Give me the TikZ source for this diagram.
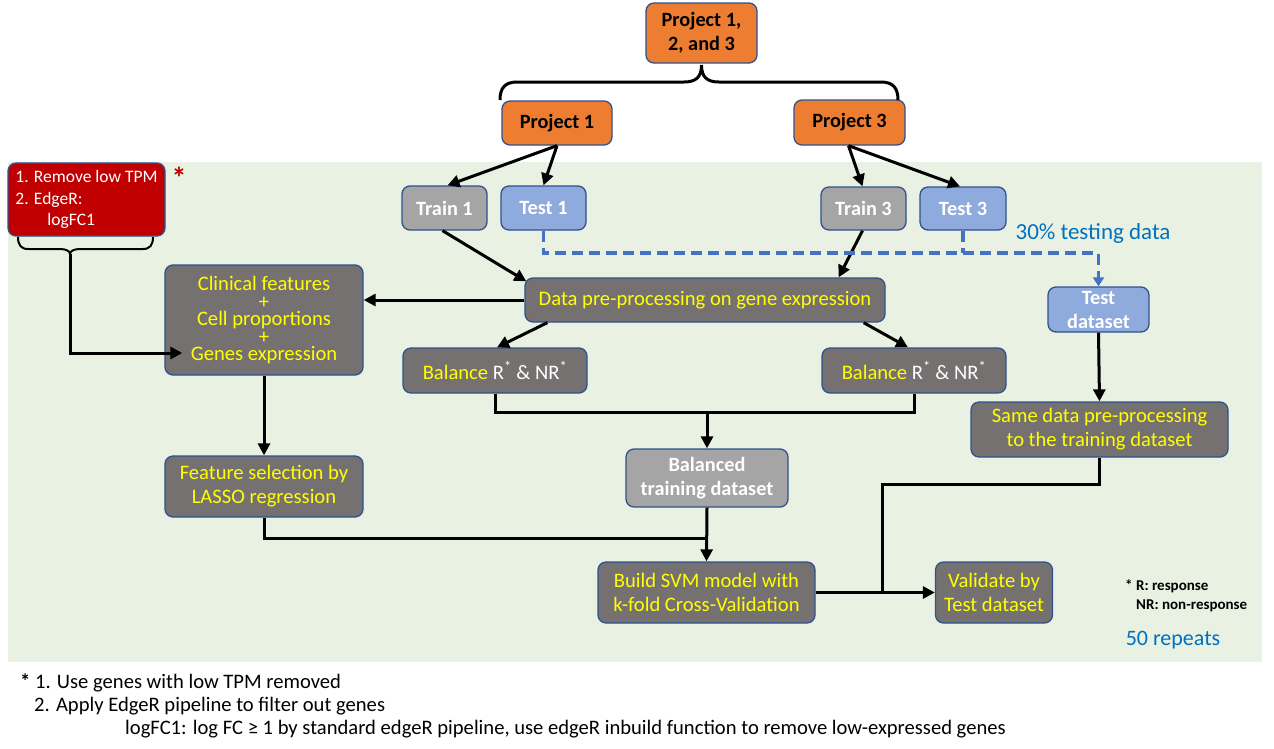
\documentclass[tikz,border=0pt]{standalone}
\usepackage{fontspec}
\setmainfont{Carlito}
\usetikzlibrary{arrows.meta,calc}
\definecolor{bgc}{RGB}{233,242,226}
\definecolor{bord}{RGB}{47,82,143}
\definecolor{dg}{RGB}{118,113,113}
\definecolor{org}{RGB}{237,125,49}
\definecolor{lg}{RGB}{165,165,165}
\definecolor{lb}{RGB}{143,170,220}
\definecolor{rd}{RGB}{192,0,0}
\definecolor{dashc}{RGB}{68,114,196}
\definecolor{bluetxt}{RGB}{0,112,192}
\definecolor{yel}{RGB}{255,255,0}
\begin{document}
\begin{tikzpicture}[x=1pt,y=-1pt,
 box/.style={draw=bord,line width=1.3pt,rounded corners=8pt,align=center,inner sep=0pt,font=\fontsize{20.6}{24}\selectfont},
 dgbox/.style={box,fill=dg,text=yel},
 orbox/.style={box,fill=org,text=black,font=\fontsize{20.3}{24}\selectfont\bfseries},
 grbox/.style={box,fill=lg,text=white,font=\fontsize{20.3}{24}\selectfont\bfseries},
 lbbox/.style={box,fill=lb,text=white,font=\fontsize{20.3}{24}\selectfont\bfseries},
 sz/.style 2 args={minimum width=#1pt,minimum height=#2pt},
 arr/.style={line width=3pt,-{Triangle[length=12pt,width=12pt]}},
 conn/.style={line width=3pt},
 bracel/.style={line width=3pt},
 dashl/.style={draw=dashc,line width=3.5pt,dash pattern=on 11pt off 6pt},
 dasharr/.style={dashl,-{Triangle[length=9pt,width=11pt]}},
 foot/.style={anchor=base west,font=\fontsize{20.6}{21}\selectfont,inner sep=0pt},
]
\useasboundingbox (0,0) rectangle (1274,748);
\fill[bgc] (8,162) rectangle (1262,662);

% nodes
\node[orbox,sz={111}{60}] (top) at (701.5,33) {Project 1,\\2, and 3};
\node[orbox,sz={110}{44}] (p1) at (557,123) {Project 1};
\node[orbox,sz={111}{45}] (p3) at (849.5,122.5) {Project 3};
\node[grbox,sz={85}{44}] (tr1) at (444.5,208) {Train 1};
\node[lbbox,sz={85}{44}] (te1) at (543.5,208) {Test 1};
\node[grbox,sz={85}{43}] (tr3) at (863.5,208.5) {Train 3};
\node[lbbox,sz={86}{43}] (te3) at (963,208.5) {Test 3};
\node[box,fill=rd,text=white,sz={157}{73},align=left,font=\fontsize{17.5}{21.5}\selectfont] (red) at (86.5,199.5) {1. Remove low TPM\\2. EdgeR:\\\hspace*{32pt}logFC1};
\node[dgbox,sz={198}{110},font=\fontsize{20.6}{17.5}\selectfont] (clin) at (264,320) {Clinical features\\+\\Cell proportions\\+\\Genes expression};
\node[dgbox,sz={360}{44}] (dp) at (705,300) {Data pre-processing on gene expression};
\node[dgbox,sz={184}{45}] (bl) at (495,370.5) {Balance {\color{white}R\textsuperscript{*} \& NR\textsuperscript{*}}};
\node[dgbox,sz={184}{45}] (br) at (914,370.5) {Balance {\color{white}R\textsuperscript{*} \& NR\textsuperscript{*}}};
\node[grbox,sz={162}{58}] (bt) at (707,478) {Balanced\\training dataset};
\node[lbbox,sz={101}{45}] (td) at (1098.5,309.5) {Test\\dataset};
\node[dgbox,sz={257}{55}] (same) at (1099.5,429.5) {Same data pre-processing\\to the training dataset};
\node[dgbox,sz={198}{61}] (fs) at (264,486.5) {Feature selection by\\LASSO regression};
\node[dgbox,sz={217}{61}] (svm) at (706.5,592.5) {Build SVM model with\\k-fold Cross-Validation};
\node[dgbox,sz={117}{61}] (val) at (994,592.5) {Validate by\\Test dataset};

% texts
\node[text=rd,font=\fontsize{30}{30}\selectfont\bfseries] (ast) at (179,178) {*};
\node[text=bluetxt,font=\fontsize{23}{23}\selectfont] (pct) at (1093,233) {30\% testing data};
\node[font=\fontsize{15}{19}\selectfont\bfseries,align=left,anchor=west,inner sep=0pt] (legend) at (1125,596) {* R: response\\\hspace*{11pt}NR: non-response};
\node[text=bluetxt,font=\fontsize{22}{22}\selectfont] (rep) at (1173,640) {50 repeats};
\node[foot] (f1) at (20,688) {\textbf{*} 1. Use genes with low TPM removed};
\node[foot] (f2) at (34,711) {2. Apply EdgeR pipeline to filter out genes};
\node[foot] (f3) at (125,734) {logFC1: log FC ≥ 1 by standard edgeR pipeline, use edgeR inbuild function to remove low-expressed genes};

% braces
\draw[bracel] (500,100) .. controls (500,88) and (505,82) .. (517,82) -- (684,82) .. controls (696,82) and (701.5,77) .. (701.5,65)
  .. controls (701.5,77) and (707,82) .. (719,82) -- (881,82) .. controls (893,82) and (898,88) .. (898,100);
\coordinate (rtip) at (70,254);
\draw[line width=2pt] (18,237) .. controls (18,245) and (21,249) .. (28,249) -- (60,249) .. controls (66,249) and (70,251) .. (rtip)
  .. controls (70,251) and (74,249) .. (80,249) -- (143,249) .. controls (150,249) and (153,245) .. (153,237);

% connectors
\draw[arr] (p1.south) -- ([xshift=3pt]tr1.north);
\draw[arr] (p1.south) -- (te1.north);
\draw[arr] ([xshift=-1pt]p3.south) -- ([xshift=-1pt]tr3.north);
\draw[arr] ([xshift=-1pt]p3.south) -- ([xshift=-3pt]te3.north);
\draw[arr] ([xshift=-2pt]tr1.south) -- ($(dp.north west)+(2,4)$);
\draw[arr] ([xshift=-1pt]tr3.south) -- ($(dp.north east)+(-47,0)$);
\draw[arr] (dp.west) -- (dp.west -| clin.east);
\draw[arr] (rtip) |- ($(clin.west)+(18,33)$);
\draw[arr] ($(dp.south west)+(23,0)$) -- ($(bl.north)+(2,0)$);
\draw[arr] ($(dp.south east)+(-22,0)$) -- ($(br.north)+(-6,0)$);
\coordinate (j2) at ($(bt.north)+(0,-36)$);
\draw[conn] (bl.south) |- (j2) -| (br.south);
\draw[arr] (j2) -- (bt.north);
\draw[arr] (clin.south) -- (fs.north);
\coordinate (j1) at ($(svm.north)+(0,-23)$);
\draw[conn] (fs.south) |- (j1);
\draw[arr] (bt.south) -- (svm.north);
\coordinate (dy) at (0,253);
\draw[dasharr] (te1.south) |- (td.north |- dy) -- (td.north);
\draw[dashl] (te3.south) -- (te3.south |- dy);
\draw[arr] (td.south) -- (same.north);
\coordinate (j3) at (882,484);
\coordinate (j4) at (882,592.5);
\draw[conn] (same.south) |- (j3) -- (j4);
\draw[arr] (svm.east) -- (val.west);
\end{tikzpicture}
\end{document}
